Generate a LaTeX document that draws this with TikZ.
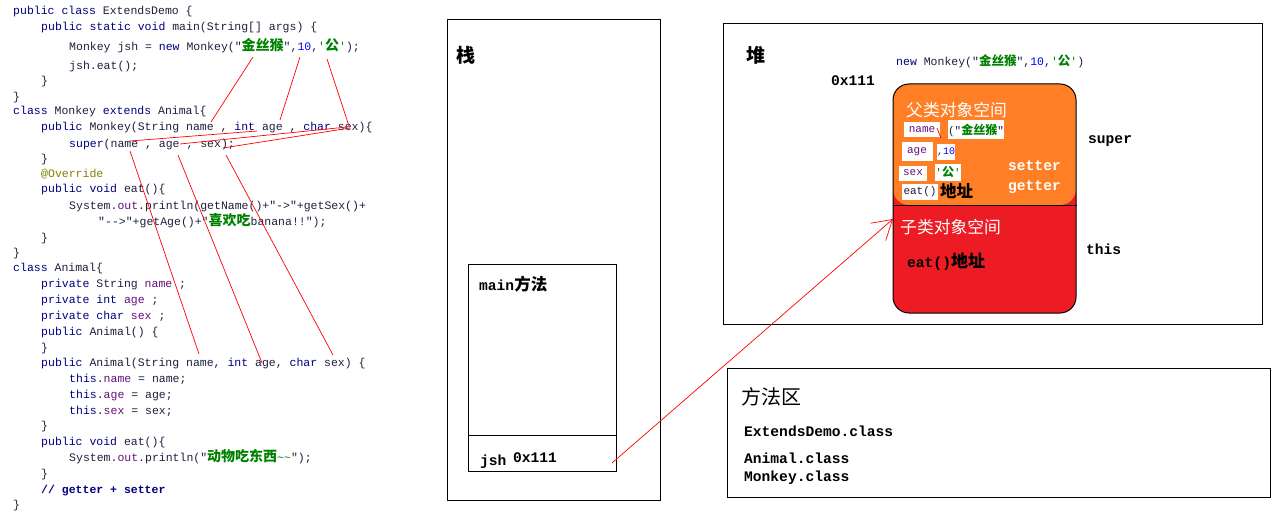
\documentclass[tikz,border=0pt]{standalone}
\usepackage{fontspec}
\setmonofont{Liberation Mono}
\newfontfamily\cjk{Noto Sans CJK SC}
\usepackage{tikz}
\usetikzlibrary{positioning, arrows.meta}
\definecolor{kwblue}{RGB}{0, 0, 128}
\definecolor{codegray}{RGB}{30, 30, 62}
\definecolor{fieldpurple}{RGB}{102, 14, 122}
\definecolor{strgreen}{RGB}{0, 128, 0}
\definecolor{numblue}{RGB}{0, 0, 255}
\definecolor{annogold}{RGB}{128, 128, 0}
\definecolor{objorange}{RGB}{255, 127, 39}
\definecolor{objred}{RGB}{237, 28, 36}
\newcommand{\kwd}[1]{\textcolor{kwblue}{#1}}
\newcommand{\fld}[1]{\textcolor{fieldpurple}{#1}}
\newcommand{\numb}[1]{\textcolor{numblue}{#1}}
\newcommand{\zhs}[2][13]{{\cjk\bfseries\fontsize{#1}{#1}\selectfont\textcolor{strgreen}{#2}}}

\begin{document}
\begin{tikzpicture}[x=1pt, y=-1pt,
    codeline/.style={anchor=base west, inner sep=0pt, text=codegray,
        font=\ttfamily\fontsize{11.5}{13}\selectfont},
    areabox/.style={draw, line width=1pt, inner sep=0pt, outer sep=0pt, anchor=north west},
    monolbl/.style={anchor=base west, inner sep=0pt,
        font=\ttfamily\bfseries\fontsize{14.6}{16}\selectfont},
    zhlbl/.style={anchor=west, inner sep=0pt, font=\cjk\fontsize{16.8}{18}\selectfont},
    fieldbox/.style={fill=white, inner sep=0pt, text=codegray, minimum height=15pt,
        font=\ttfamily\fontsize{11}{12}\selectfont},
    redline/.style={red, line width=0.7pt},
    arrow/.style={redline, -{Straight Barb[length=19pt, width=23pt]}}
]
    \useasboundingbox (0,0) rectangle (1285,524);

    % Code: ExtendsDemo / Monkey
    \node[codeline] (c1) at (13,15) {\kwd{public} \kwd{class} ExtendsDemo \{};
    \node[codeline] (c2) at (41,31) {\kwd{public} \kwd{static} \kwd{void} main(String[] args) \{};
    \node[codeline] (c3) at (69,51) {Monkey jsh = \kwd{new} Monkey("\zhs[14]{金丝猴}",\numb{10},\textcolor{strgreen}{'}\zhs[14]{公}\textcolor{strgreen}{'});};
    \node[codeline] (c4) at (69,70) {jsh.eat();};
    \node[codeline] (c5) at (41,85) {\}};
    \node[codeline] (c6) at (13,101) {\}};
    \node[codeline] (c7) at (13,115) {\kwd{class} Monkey \kwd{extends} Animal\{};
    \node[codeline] (c8) at (41,131) {\kwd{public} Monkey(String name , \kwd{int} age , \kwd{char} sex)\{};
    \node[codeline] (c9) at (69,147) {\kwd{super}(name , age , sex);};
    \node[codeline] (c10) at (41,162) {\}};
    \node[codeline] (c11) at (41,178) {\textcolor{annogold}{@Override}};
    \node[codeline] (c12) at (41,193) {\kwd{public} \kwd{void} eat()\{};
    \node[codeline] (c13) at (69,209) {System.\fld{out}.println(getName()+"->"+getSex()+};
    \node[codeline] (c14) at (98,225) {"-->"+getAge()+"\zhs[14]{喜欢吃}banana!!");};
    \node[codeline] (c15) at (41,241) {\}};
    \node[codeline] (c16) at (13,256) {\}};

    % Code: Animal
    \node[codeline] (c17) at (13,271) {\kwd{class} Animal\{};
    \node[codeline] (c18) at (41,287) {\kwd{private} String \fld{name} ;};
    \node[codeline] (c19) at (41,303) {\kwd{private} \kwd{int} \fld{age} ;};
    \node[codeline] (c20) at (41,319) {\kwd{private} \kwd{char} \fld{sex} ;};
    \node[codeline] (c21) at (41,335) {\kwd{public} Animal() \{};
    \node[codeline] (c22) at (41,351) {\}};
    \node[codeline] (c23) at (41,366) {\kwd{public} Animal(String name, \kwd{int} age, \kwd{char} sex) \{};
    \node[codeline] (c24) at (69,382) {\kwd{this}.\fld{name} = name;};
    \node[codeline] (c25) at (69,398) {\kwd{this}.\fld{age} = age;};
    \node[codeline] (c26) at (69,414) {\kwd{this}.\fld{sex} = sex;};
    \node[codeline] (c27) at (41,429) {\}};
    \node[codeline] (c28) at (41,445) {\kwd{public} \kwd{void} eat()\{};
    \node[codeline] (c29) at (69,461) {System.\fld{out}.println("\zhs[14]{动物吃东西}\textcolor{strgreen}{\textasciitilde\textasciitilde}");};
    \node[codeline] (c30) at (41,477) {\}};
    \node[codeline] (c31) at (41,493) {\bfseries\kwd{// getter + setter}};
    \node[codeline] (c32) at (13,508) {\}};

    % Hand-drawn links in the code
    \draw[redline] (253,57) -- (211,122);
    \draw[redline] (300,57) -- (280,120);
    \draw[redline] (327,59) -- (349,126);
    \draw[redline] (130,141) -- (257,131);
    \draw[redline] (180,144) -- (347,127);
    \draw[redline] (223,148) -- (350,128);
    \draw[redline] (130,151) -- (199,354);
    \draw[redline] (178,155) -- (262,363);
    \draw[redline] (226,155) -- (333,355);

    % Stack
    \node[areabox, minimum width=213pt, minimum height=480pt] (stack) at (447,20) {};
    \node[zhlbl, font=\cjk\bfseries\fontsize{19}{20}\selectfont] (stacklbl) at (456,55) {栈};
    \node[areabox, minimum width=148pt, minimum height=171pt] (mainframe) at (468,264) {};
    \node[areabox, minimum width=148pt, minimum height=36pt] (jshcell) at (468,435) {};
    \node[monolbl, anchor=west] (mainlbl) at (479,284) {main{\cjk\bfseries\fontsize{16.5}{17}\selectfont 方法}};
    \node[monolbl] (jshlbl) at (480,465) {jsh};
    \node[monolbl] (jshaddr) at (513,462) {0x111};
    \coordinate (jshref) at (612,463);

    % Heap
    \node[areabox, minimum width=539pt, minimum height=300pt] (heap) at (723,24) {};
    \node[zhlbl, font=\cjk\bfseries\fontsize{19}{20}\selectfont] (heaplbl) at (746,55) {堆};
    \node[codeline] (newcall) at (896,66) {\kwd{new} Monkey("\zhs[12.5]{金丝猴}",\numb{10},\textcolor{strgreen}{'}\zhs[12.5]{公}\textcolor{strgreen}{'})};
    \node[monolbl] (objaddr) at (831,86) {0x111};
    \node[areabox, rounded corners=16pt, fill=objred, minimum width=183pt, minimum height=229pt,
        path picture={\fill[objorange] (path picture bounding box.north west)
            rectangle ([yshift=-121pt]path picture bounding box.north east);}] (object) at (893,84) {};
    \draw[line width=1pt] ([yshift=-121pt]object.north west) -- ([yshift=-121pt, xshift=1pt]object.north east);
    \coordinate (childref) at (893,219);

    % Parent part
    \node[zhlbl, text=white] (parentlbl) at (906,110) {父类对象空间};
    \node[fieldbox, minimum width=36pt] (fname) at (922,130) {\fld{name}};
    \draw[redline] (937,128) -- (941,138);
    \node[fieldbox, minimum width=56pt, minimum height=19pt] (vname) at (976,130) {("\zhs[12]{金丝猴}"};
    \node[fieldbox, minimum width=31pt, minimum height=19pt] (fage) at (917,152) {\fld{age}};
    \node[fieldbox, minimum width=18pt, minimum height=16pt, font=\ttfamily\fontsize{10}{11}\selectfont] (vage) at (946,152) {,\numb{10}};
    \node[fieldbox, minimum width=28pt] (fsex) at (913,173) {\fld{sex}};
    \node[fieldbox, minimum width=25pt, minimum height=17pt] (vsex) at (948,172) {\textcolor{strgreen}{'}\zhs[12]{公}\textcolor{strgreen}{'}};
    \node[fieldbox, minimum width=36pt, minimum height=16pt] (feat) at (920,192) {eat()};
    \node[zhlbl, font=\cjk\bfseries\fontsize{16.5}{17}\selectfont] (veat) at (940,191) {地址};
    \node[monolbl, text=white] (setterlbl) at (1008,171) {setter};
    \node[monolbl, text=white] (getterlbl) at (1008,190) {getter};
    \node[monolbl] (superlbl) at (1088,144) {super};

    % Child part
    \node[zhlbl, text=white] (childlbl) at (900,227) {子类对象空间};
    \node[monolbl, anchor=west] (childeat) at (907,262) {eat(){\cjk\bfseries\fontsize{17}{18}\selectfont 地址}};
    \node[monolbl] (thislbl) at (1086,254) {this};

    % Method area
    \node[areabox, minimum width=543pt, minimum height=129pt] (methodarea) at (727,368) {};
    \node[zhlbl, font=\cjk\fontsize{20}{21}\selectfont] (malbl) at (741,397) {方法区};
    \node[monolbl] (cls1) at (744,436) {ExtendsDemo.class};
    \node[monolbl] (cls2) at (744,463) {Animal.class};
    \node[monolbl] (cls3) at (744,481) {Monkey.class};

    % Reference
    \draw[arrow] (jshref) -- (childref);
\end{tikzpicture}
\end{document}
